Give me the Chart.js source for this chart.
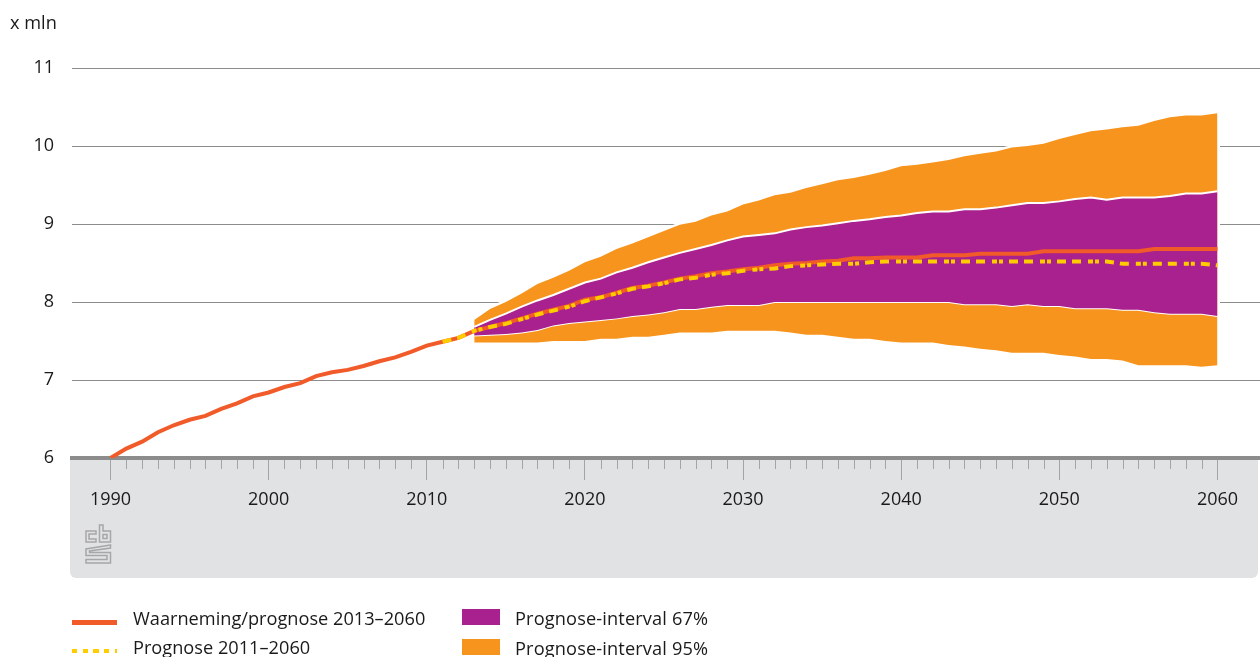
<!DOCTYPE html>
<html><head><meta charset="utf-8">
<style>
html,body{margin:0;padding:0;background:#fff;overflow:hidden}
#wrap{position:relative;width:1260px;height:657px;font-family:"Open Sans",sans-serif;color:#1a1a1a;font-size:18.2px}
canvas{position:absolute;left:0;top:0}
.t{position:absolute;white-space:nowrap;line-height:20px}
.sw{position:absolute}
</style>
<script src="https://cdn.jsdelivr.net/npm/chart.js@4/dist/chart.umd.min.js"></script>
</head><body><div id="wrap"><canvas id="c" width="1260" height="657"></canvas>
<div class="t" style="left:10px;top:12px">x mln</div>
<div class="t" style="left:133px;top:608px">Waarneming/prognose 2013–2060</div>
<div class="t" style="left:133px;top:637px">Prognose 2011–2060</div>
<div class="t" style="left:515px;top:608px;letter-spacing:.14px">Prognose-interval 67%</div>
<div class="t" style="left:515px;top:638px;letter-spacing:.14px">Prognose-interval 95%</div>
<div class="sw" style="left:72px;top:620px;width:45px;height:4.5px;background:#f15a29"></div>
<div class="sw" style="left:72px;top:649px;width:45px;height:4px;background:repeating-linear-gradient(90deg,#ffcc00 0 5.3px,transparent 5.3px 10.67px)"></div>
<div class="sw" style="left:462px;top:609px;width:38px;height:16px;background:#a8218e"></div>
<div class="sw" style="left:462px;top:639px;width:38px;height:16px;background:#f7941d"></div>
</div>
<script>
const tickYears=[1990,2000,2010,2020,2030,2040,2050,2060];
const yTicks=[6,7,8,9,10,11];
const obsYears=[1990,1991,1992,1993,1994,1995,1996,1997,1998,1999,2000,2001,2002,2003,2004,2005,2006,2007,2008,2009,2010,2011,2012];
const obsValues=[6.0,6.12,6.21,6.33,6.42,6.49,6.54,6.63,6.70,6.79,6.84,6.91,6.96,7.05,7.10,7.13,7.18,7.24,7.29,7.36,7.44,7.49,7.54];
const fcYears=[2013,2014,2015,2016,2017,2018,2019,2020,2021,2022,2023,2024,2025,2026,2027,2028,2029,2030,2031,2032,2033,2034,2035,2036,2037,2038,2039,2040,2041,2042,2043,2044,2045,2046,2047,2048,2049,2050,2051,2052,2053,2054,2055,2056,2057,2058,2059,2060];
const mainValues=[7.63,7.68,7.73,7.79,7.85,7.90,7.95,8.03,8.06,8.12,8.18,8.21,8.25,8.30,8.33,8.37,8.39,8.42,8.44,8.47,8.49,8.50,8.52,8.53,8.56,8.56,8.57,8.57,8.57,8.60,8.60,8.60,8.62,8.62,8.62,8.62,8.65,8.65,8.65,8.65,8.65,8.65,8.65,8.68,8.68,8.68,8.68,8.68];
const dashYearsHead=[2011,2012];
const dashHead=[7.49,7.54];
const dashValues=[7.63,7.68,7.72,7.78,7.84,7.89,7.94,8.01,8.06,8.11,8.17,8.20,8.24,8.29,8.31,8.35,8.37,8.40,8.42,8.43,8.46,8.47,8.48,8.49,8.49,8.51,8.52,8.52,8.52,8.52,8.52,8.52,8.52,8.52,8.52,8.52,8.52,8.52,8.52,8.52,8.52,8.49,8.49,8.49,8.49,8.49,8.49,8.47];
const upper95=[7.77,7.91,8.00,8.11,8.23,8.31,8.40,8.51,8.58,8.68,8.75,8.83,8.91,8.99,9.03,9.11,9.16,9.25,9.30,9.37,9.40,9.46,9.51,9.56,9.59,9.63,9.68,9.74,9.76,9.79,9.82,9.87,9.90,9.93,9.98,10.00,10.03,10.09,10.14,10.19,10.21,10.24,10.26,10.32,10.37,10.39,10.39,10.42];
const upper67=[7.68,7.77,7.85,7.94,8.02,8.09,8.17,8.25,8.30,8.38,8.44,8.51,8.57,8.63,8.68,8.73,8.79,8.84,8.86,8.88,8.93,8.96,8.98,9.01,9.04,9.06,9.09,9.11,9.14,9.16,9.16,9.19,9.19,9.21,9.24,9.27,9.27,9.29,9.32,9.34,9.31,9.34,9.34,9.34,9.36,9.39,9.39,9.42];
const lower67=[7.57,7.58,7.59,7.61,7.64,7.70,7.73,7.75,7.77,7.79,7.82,7.84,7.87,7.91,7.91,7.94,7.96,7.96,7.96,8.00,8.00,8.00,8.00,8.00,8.00,8.00,8.00,8.00,8.00,8.00,8.00,7.97,7.97,7.97,7.95,7.97,7.95,7.95,7.92,7.92,7.92,7.90,7.90,7.87,7.85,7.85,7.85,7.82];
const lower95=[7.48,7.48,7.48,7.48,7.48,7.50,7.50,7.50,7.53,7.53,7.555,7.555,7.58,7.61,7.61,7.61,7.63,7.63,7.63,7.63,7.61,7.58,7.58,7.555,7.53,7.53,7.50,7.48,7.48,7.48,7.45,7.43,7.40,7.38,7.35,7.35,7.35,7.32,7.30,7.27,7.27,7.25,7.19,7.19,7.19,7.19,7.17,7.19];
const zip=(xs,ys)=>xs.map((x,i)=>({x,y:ys[i]}));
const FONT='"Open Sans", sans-serif';
const minorYears=[];
for(const y of obsYears.concat(fcYears)) if(!tickYears.includes(y)) minorYears.push(y);

// grey panel under the axis and the CBS mark in it
const panel={id:'panel',beforeDraw(ch){const c=ch.ctx;c.save();c.fillStyle='#e1e2e4';c.beginPath();c.roundRect(70,458,1188,120,[0,0,6,6]);c.fill();
  c.strokeStyle='#a6a7a9';c.lineWidth=1.5;c.lineJoin='miter';
  const shapes=[
   [[96,531],[86,531],[86,542],[96,542],[96,539],[89,539],[89,534],[96,534]],
   [[99.5,525],[103,525],[103,531],[110.5,531],[110.5,542],[99.5,542]],
   [[103,534.5],[107,534.5],[107,538.5],[103,538.5]],
   [[110.5,545],[86,549],[86,555.5],[107,555.5],[107,559.5],[86,559.5],[86,563],[110.5,563],[110.5,552.5],[89.5,552.5],[89.5,551],[110.5,548]]
  ];
  for(const s of shapes){c.beginPath();s.forEach((p,i)=>i?c.lineTo(p[0],p[1]):c.moveTo(p[0],p[1]));c.closePath();c.stroke();}
  c.restore();}};
// minor year ticks
const minor={id:'minor',afterDraw(ch){const c=ch.ctx,s=ch.scales.x;c.save();c.strokeStyle='#a3a4a6';c.lineWidth=1;
  for(const y of minorYears){const p=Math.round(s.getPixelForValue(y))+.5;c.beginPath();c.moveTo(p,460);c.lineTo(p,469);c.stroke();}
  c.restore();}};
// thin white halo round the 95% band, masking the grid lines
const halo={id:'halo',beforeDatasetsDraw(ch){const c=ch.ctx;
  const top=ch.getDatasetMeta(4).data,bot=ch.getDatasetMeta(5).data;
  c.save();c.strokeStyle='#fff';c.lineWidth=5;c.lineJoin='round';c.beginPath();
  top.forEach((p,i)=>i?c.lineTo(p.x,p.y):c.moveTo(p.x,p.y));
  for(let i=bot.length-1;i>=0;i--)c.lineTo(bot[i].x,bot[i].y);
  c.closePath();c.stroke();c.restore();}};

new Chart(document.getElementById('c'),{
 type:'line',
 data:{datasets:[
  {label:'Prognose 2011–2060',data:zip(dashYearsHead.concat(fcYears),dashHead.concat(dashValues)),borderColor:'#ffcc00',borderWidth:4,borderDash:[9,6,9,7,5,2,4,6],pointRadius:0,fill:false,order:1},
  {label:'Waarneming/prognose 2013–2060',data:zip(obsYears.concat(fcYears),obsValues.concat(mainValues)),borderColor:'#f15a29',borderWidth:4,pointRadius:0,fill:false,order:2},
  {label:'Prognose-interval 67% boven',data:zip(fcYears,upper67),borderColor:'#ffffff',borderWidth:2,backgroundColor:'#a8218e',pointRadius:0,fill:'+1',order:3},
  {label:'Prognose-interval 67% onder',data:zip(fcYears,lower67),borderColor:'#ffffff',borderWidth:2,pointRadius:0,fill:false,order:3},
  {label:'Prognose-interval 95% boven',data:zip(fcYears,upper95),borderWidth:0,backgroundColor:'#f7941d',pointRadius:0,fill:'+1',order:4},
  {label:'Prognose-interval 95% onder',data:zip(fcYears,lower95),borderWidth:0,pointRadius:0,fill:false,order:4}
 ]},
 options:{
  responsive:false,animation:false,
  layout:{padding:{left:0,right:0,top:68,bottom:0}},
  plugins:{legend:{display:false},tooltip:{enabled:false}},
  elements:{line:{tension:0}},
  scales:{
   x:{type:'linear',min:1987.565,max:2062.69,
      afterBuildTicks(s){s.ticks=tickYears.map(v=>({value:v}));},
      afterFit(s){s.height=199;},
      border:{color:'#8c8c8c',width:4},
      grid:{drawOnChartArea:false,drawTicks:true,tickLength:22,tickColor:'#a3a4a6',tickWidth:1},
      ticks:{maxRotation:0,autoSkip:false,padding:9,color:'#1a1a1a',font:{family:FONT,size:18},callback:v=>String(v)}},
   y:{min:6,max:11,
      afterBuildTicks(s){s.ticks=yTicks.map(v=>({value:v}));},
      afterFit(s){s.width=72;},
      border:{display:false},
      grid:{color:'#8c8c8c',lineWidth:1,drawTicks:false},
      ticks:{padding:18,color:'#1a1a1a',font:{family:FONT,size:18},callback:v=>String(v)}}
  }
 },
 plugins:[panel,halo,minor]
});
</script></body></html>
